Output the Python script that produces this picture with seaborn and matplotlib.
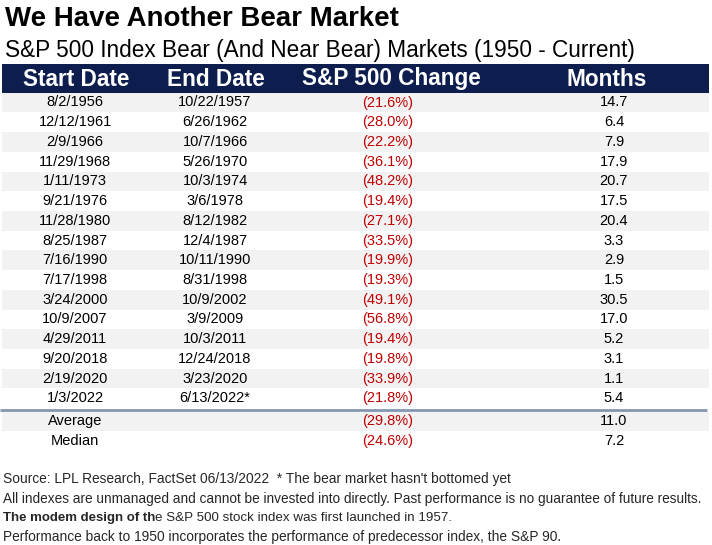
import matplotlib
matplotlib.use("Agg")
import matplotlib.pyplot as plt
import seaborn as sns

# ---- data ----
columns = ["Start Date", "End Date", "S&P 500 Change", "Months"]
start_dates = ["8/2/1956", "12/12/1961", "2/9/1966", "11/29/1968", "1/11/1973",
               "9/21/1976", "11/28/1980", "8/25/1987", "7/16/1990", "7/17/1998",
               "3/24/2000", "10/9/2007", "4/29/2011", "9/20/2018", "2/19/2020",
               "1/3/2022"]
end_dates = ["10/22/1957", "6/26/1962", "10/7/1966", "5/26/1970", "10/3/1974",
             "3/6/1978", "8/12/1982", "12/4/1987", "10/11/1990", "8/31/1998",
             "10/9/2002", "3/9/2009", "10/3/2011", "12/24/2018", "3/23/2020",
             "6/13/2022*"]
changes = [-21.6, -28.0, -22.2, -36.1, -48.2, -19.4, -27.1, -33.5, -19.9, -19.3,
           -49.1, -56.8, -19.4, -19.8, -33.9, -21.8]
months = [14.7, 6.4, 7.9, 17.9, 20.7, 17.5, 20.4, 3.3, 2.9, 1.5, 30.5, 17.0,
          5.2, 3.1, 1.1, 5.4]
summary_labels = ["Average", "Median"]
summary_changes = [-29.8, -24.6]
summary_months = [11.0, 7.2]

title = "We Have Another Bear Market"
subtitle = "S&P 500 Index Bear (And Near Bear) Markets (1950 - Current)"
footer_1 = "Source: LPL Research, FactSet 06/13/2022  * The bear market hasn't bottomed yet"
footer_2 = "All indexes are unmanaged and cannot be invested into directly. Past performance is no guarantee of future results."
footer_3_bold = "The modem design of th"
footer_3_rest = "e S&P 500 stock index was first launched in 1957."
footer_4 = "Performance back to 1950 incorporates the performance of predecessor index, the S&P 90."

# ---- style ----
sns.set_theme(style="white")
plt.rcParams['font.family'] = ['Liberation Sans', 'DejaVu Sans']

NAVY = "#0c1d4e"
BAND = "#f2f2f2"
RED = "#c00000"
SEP = "#8497b0"

fig = plt.figure(figsize=(7.12, 5.45), dpi=100)
ax = fig.add_axes([0, 0, 1, 1])
ax.set_xlim(0, 712)
ax.set_ylim(545, 0)
ax.axis("off")

# title
ax.text(5, 18.5, title, fontsize=19.9, fontweight="bold", va="center", ha="left", color="black")
ax.text(5, 50.5, subtitle, fontsize=16.3, va="center", ha="left", color="black")

# header
left, right = 2, 709
ax.fill_between([left, right], 64, 92.5, color=NAVY, lw=0)
head_x = [76, 216, 391, 607]
for x, c in zip(head_x, columns):
    ax.text(x, 79, c, fontsize=16.3, fontweight="bold", color="white", ha="center", va="center")

col_x = [75, 215, 388, 614]
row0, rh = 102.5, 19.72
fs = 10.5


def fmt_pct(v):
    return f"({abs(v):.1f}%)"


for i in range(len(start_dates)):
    yc = row0 + i * rh
    if i % 2 == 0:
        ax.fill_between([left, right], yc - rh / 2, yc + rh / 2, color=BAND, lw=0)
    ax.text(col_x[0], yc, start_dates[i], fontsize=fs, ha="center", va="center", color="black")
    ax.text(col_x[1], yc, end_dates[i], fontsize=fs, ha="center", va="center", color="black")
    ax.text(col_x[2], yc, fmt_pct(changes[i]), fontsize=fs, ha="center", va="center", color=RED)
    ax.text(col_x[3], yc, f"{months[i]:.1f}", fontsize=fs, ha="center", va="center", color="black")

last = row0 + (len(start_dates) - 1) * rh
sep_y = last + rh / 2 + 2
ax.plot([0, 707], [sep_y, sep_y], color=SEP, lw=2.0, solid_capstyle="butt")

s0 = sep_y + 10.8
for j in range(len(summary_labels)):
    yc = s0 + j * rh
    if j % 2 == 0:
        ax.fill_between([left, right], yc - rh / 2 + 0.5, yc + rh / 2, color=BAND, lw=0)
    ax.text(col_x[0], yc, summary_labels[j], fontsize=fs, ha="center", va="center", color="black")
    ax.text(col_x[2], yc, fmt_pct(summary_changes[j]), fontsize=fs, ha="center", va="center", color=RED)
    ax.text(col_x[3], yc, f"{summary_months[j]:.1f}", fontsize=fs, ha="center", va="center", color="black")

# footer
ax.text(3, 479, footer_1, fontsize=9.95, ha="left", va="center")
ax.text(3, 498.5, footer_2, fontsize=9.77, ha="left", va="center")
t = ax.text(3, 518, footer_3_bold, fontsize=9.5, fontweight="bold", ha="left", va="center")
fig.canvas.draw()
bb = t.get_window_extent(renderer=fig.canvas.get_renderer())
x_end = ax.transData.inverted().transform((bb.x1, bb.y0))[0]
ax.text(x_end, 518, footer_3_rest, fontsize=9.65, ha="left", va="center")
ax.text(3, 537.5, footer_4, fontsize=9.95, ha="left", va="center")

fig.savefig("out.png", dpi=100, facecolor="white")
